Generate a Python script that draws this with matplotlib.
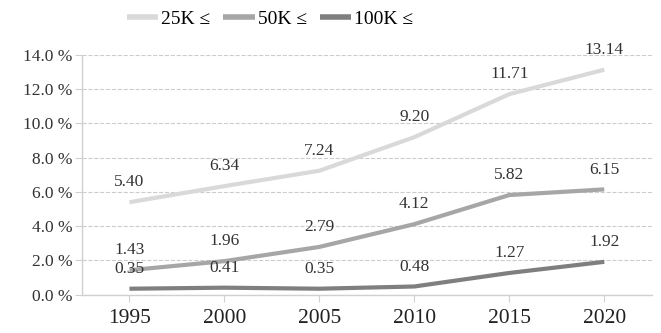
import numpy as np
import matplotlib.pyplot as plt

plt.rcParams['font.family'] = ['Liberation Serif', 'DejaVu Serif']

years = ['1995', '2000', '2005', '2010', '2015', '2020']
series_names = ['25K \u2264', '50K \u2264', '100K \u2264']
share_25k = [5.40, 6.34, 7.24, 9.20, 11.71, 13.14]
share_50k = [1.43, 1.96, 2.79, 4.12, 5.82, 6.15]
share_100k = [0.35, 0.41, 0.35, 0.48, 1.27, 1.92]

colors = ['#d9d9d9', '#a6a6a6', '#7f7f7f']

fig = plt.figure(figsize=(6.61, 3.33), dpi=100)
ax = fig.add_axes([0.124, 0.115, 0.862, 0.72])

x = np.arange(len(years))
for name, vals, c in zip(series_names, [share_25k, share_50k, share_100k], colors):
    ax.plot(x, vals, color=c, lw=3, label=name, solid_capstyle='butt')
    for xi, v in zip(x, vals):
        ax.annotate(f'{v:.2f}', (xi, v), xytext=(0, 8.5), textcoords='offset points',
                    ha='center', va='bottom', fontsize=12.5, color='#333333')

ax.set_xlim(-0.5, len(years) - 0.5)
ax.set_ylim(0, 14)
ax.set_yticks(np.arange(0, 14.1, 2))
ax.set_yticklabels([f'{v:.1f} %' for v in np.arange(0, 14.1, 2)], fontsize=12.5, color='#333333')
ax.set_xticks(x)
ax.set_xticklabels(years, fontsize=15.5, color='#222222')

ax.grid(axis='y', color='#cccccc', ls='--', lw=0.8)
ax.set_axisbelow(True)
for s in ['top', 'right']:
    ax.spines[s].set_visible(False)
for s in ['left', 'bottom']:
    ax.spines[s].set_color('#d0d0d0')
    ax.spines[s].set_linewidth(1)
ax.tick_params(axis='y', length=5, color='#d0d0d0', pad=2)
ax.tick_params(axis='x', length=5, color='#d0d0d0', pad=5)

leg = ax.legend(loc='center', bbox_to_anchor=(0.33, 1.148), ncol=3, frameon=False,
                fontsize=14, handlelength=1.6, columnspacing=0.7, handletextpad=0.15,
                borderpad=0, borderaxespad=0)
for h in leg.get_lines():
    h.set_linewidth(4)

fig.savefig('out.png', dpi=100)
